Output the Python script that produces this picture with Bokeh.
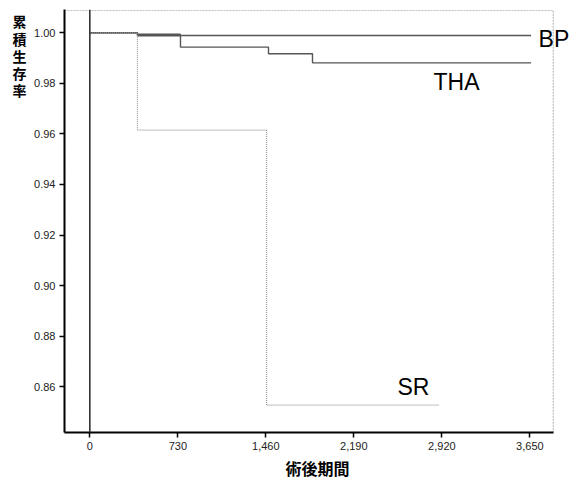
from bokeh.plotting import figure
from bokeh.models import (Label, Span, FixedTicker, NumeralTickFormatter, Range1d,
                          BoxAnnotation, LinearAxis)
from bokeh.embed import file_html
from bokeh.resources import INLINE

# ---- data ----
series_names = ["BP", "THA", "SR"]
bp_days = [0, 395, 750, 3660]
bp_surv = [1.0, 0.9994, 0.9989, 0.9989]
tha_days = [0, 395, 752, 1482, 1847, 3660]
tha_surv = [1.0, 0.9988, 0.9943, 0.9917, 0.9881, 0.9881]
sr_days = [0, 395, 1466, 2892]
sr_surv = [1.0, 0.9615, 0.8527, 0.8527]

x_ticks = [0, 730, 1460, 2190, 2920, 3650]
y_ticks = [0.86, 0.88, 0.90, 0.92, 0.94, 0.96, 0.98, 1.00]
x_title = "術後期間"
y_title_chars = ["累", "積", "生", "存", "率"]

JP = "Noto Sans CJK JP"
LAT = "Liberation Sans"

X0, X1 = -210, 3844      # box of the original plot area
Y0, Y1 = 0.8419, 1.0088
title_char_y = [1.0045, 0.9977, 0.9909, 0.9841, 0.9773]   # layout positions of stacked title

p = figure(width=570, height=483, output_backend="svg", toolbar_location=None,
           x_range=Range1d(X0, 3987), y_range=Range1d(Y0, 1.0092),
           min_border_left=64, min_border_right=0, min_border_top=9, min_border_bottom=51)
p.background_fill_color = "white"
p.border_fill_color = "white"
p.grid.visible = False
p.outline_line_color = None

# dotted frame box
p.add_layout(BoxAnnotation(left=X0, right=X1, bottom=Y0, top=Y1, fill_alpha=0,
                           line_color="#222222", line_dash="2 1", line_width=1.2))

# axes
p.xaxis.ticker = FixedTicker(ticks=x_ticks)
p.xaxis.formatter = NumeralTickFormatter(format="0,0")
p.xaxis.bounds = (X0, X1)
p.yaxis.ticker = FixedTicker(ticks=y_ticks)
p.yaxis.formatter = NumeralTickFormatter(format="0.00")
for ax in (p.xaxis[0], p.yaxis[0]):
    ax.axis_line_color = "black"
    ax.axis_line_width = 2
    ax.major_tick_line_color = "black"
    ax.major_tick_line_width = 1.5
    ax.major_tick_out = 5
    ax.major_tick_in = 0
    ax.minor_tick_out = 0
    ax.minor_tick_in = 0
    ax.major_label_text_font = LAT
    ax.major_label_text_font_size = "11px"
    ax.major_label_text_color = "#222222"
p.xaxis.major_label_standoff = 4
p.yaxis.major_label_standoff = 4
p.xaxis.axis_label = x_title
p.xaxis.axis_label_text_font = JP
p.xaxis.axis_label_text_font_style = "bold"
p.xaxis.axis_label_text_font_size = "16px"
p.xaxis.axis_label_text_color = "black"
p.xaxis.axis_label_standoff = 3

# stacked vertical y title: an extra left axis whose tick labels are the characters
title_axis = LinearAxis(ticker=FixedTicker(ticks=title_char_y),
                        major_label_overrides={v: c for v, c in zip(title_char_y, y_title_chars)},
                        axis_line_color=None, major_tick_line_color=None,
                        minor_tick_line_color=None, major_tick_out=0, major_tick_in=0,
                        major_label_standoff=5,
                        major_label_text_font=JP, major_label_text_font_style="bold",
                        major_label_text_font_size="14px", major_label_text_color="black")
p.add_layout(title_axis, "left")

# vertical line at day 0
p.add_layout(Span(location=0, dimension="height", line_color="#333333", line_width=1.6))

# survival curves
p.step(bp_days, bp_surv, mode="after", line_color="#555555", line_width=1.4)
p.step(tha_days, tha_surv, mode="after", line_color="#555555", line_width=1.4)
p.step(sr_days, sr_surv, mode="after", line_color="#999999", line_width=1.2, line_dash="1 1")

# curve labels
label_pos = {"BP": (3722, 0.99735), "THA": (2851, 0.98036), "SR": (2552, 0.85986)}
for name in series_names:
    x, y = label_pos[name]
    p.add_layout(Label(x=x, y=y, text=name, text_font=LAT, text_font_size="23px",
                       text_color="black", text_baseline="alphabetic"))

open("out.html", "w").write(file_html(p, INLINE))
